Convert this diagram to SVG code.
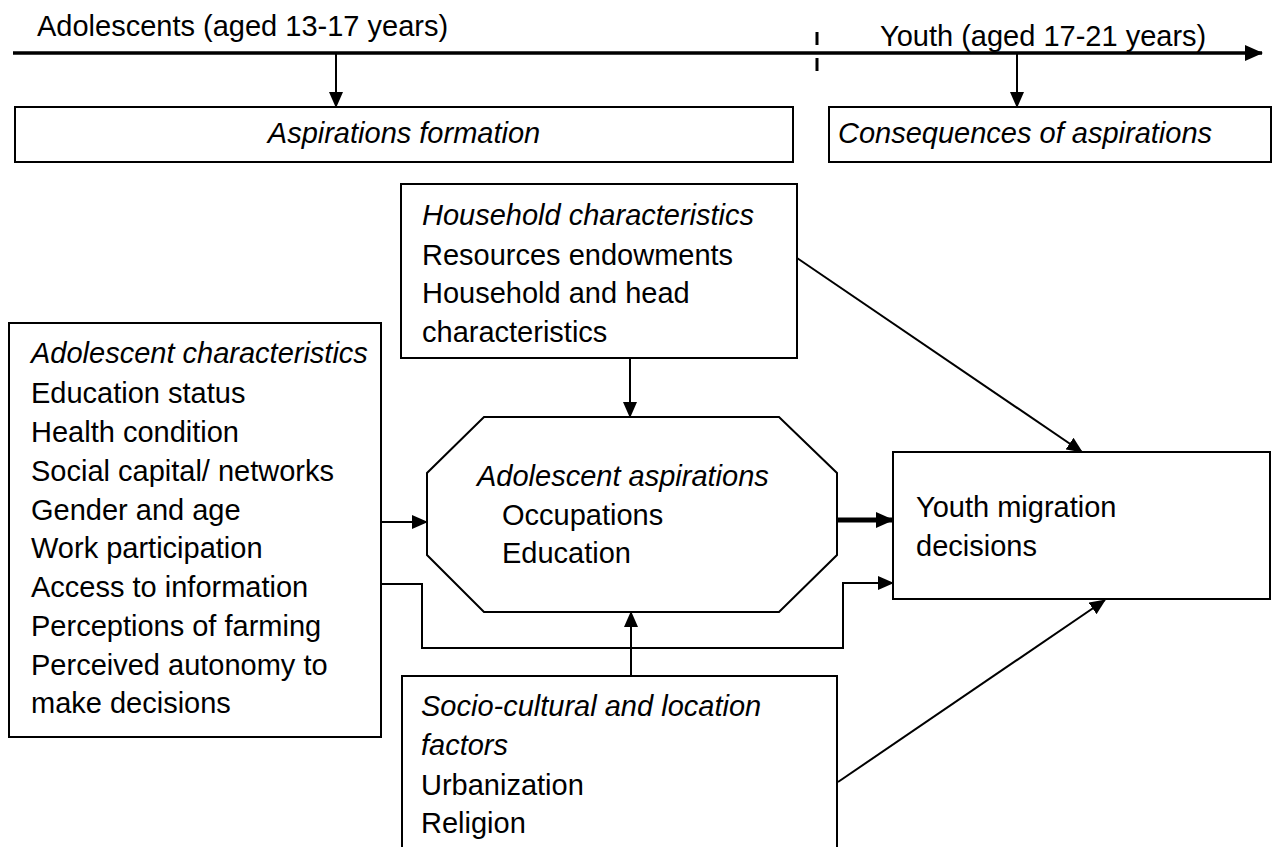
<svg xmlns="http://www.w3.org/2000/svg" width="1275" height="847" viewBox="0 0 1275 847">
<style>
text{font-family:"Liberation Sans",Arial,sans-serif;font-size:29px;fill:#000}
.i{font-style:italic}
.box{fill:#fff;stroke:#000;stroke-width:2}
.ln{fill:none;stroke:#000;stroke-width:2}
</style>
<defs>
<marker id="ah" markerUnits="userSpaceOnUse" markerWidth="16" markerHeight="14" refX="15" refY="7" orient="auto"><path d="M0,0 L16,7 L0,14 Z" fill="#000"/></marker>
<marker id="ahb" markerUnits="userSpaceOnUse" markerWidth="18" markerHeight="16" refX="17" refY="8" orient="auto"><path d="M0,0 L18,8 L0,16 Z" fill="#000"/></marker>
</defs>
<rect width="1275" height="847" fill="#fff"/>
<g id="timeline">
<text x="37" y="36">Adolescents (aged 13-17 years)</text>
<text x="880" y="46">Youth (aged 17-21 years)</text>
<line x1="13" y1="53" x2="1262" y2="53" stroke="#000" stroke-width="3.5" marker-end="url(#ahb)"/>
<line x1="817" y1="32" x2="817" y2="74" stroke="#000" stroke-width="3" stroke-dasharray="13,13"/>
</g>
<g id="aspirations-formation">
<rect class="box" x="15" y="107" width="778" height="55"/>
<text class="i" x="404" y="143" text-anchor="middle">Aspirations formation</text>
</g>
<g id="consequences">
<rect class="box" x="829" y="107" width="442" height="55"/>
<text class="i" x="838" y="143">Consequences of aspirations</text>
</g>
<g id="household">
<rect class="box" x="401" y="184" width="396" height="174"/>
<text x="422"><tspan class="i" x="422" y="225">Household characteristics</tspan><tspan x="422" y="265">Resources endowments</tspan><tspan x="422" y="303">Household and head</tspan><tspan x="422" y="342">characteristics</tspan></text>
</g>
<g id="adolescent">
<rect class="box" x="9" y="323" width="372" height="414"/>
<text><tspan class="i" x="31" y="363">Adolescent characteristics</tspan><tspan x="31" y="403">Education status</tspan><tspan x="31" y="442">Health condition</tspan><tspan x="31" y="481">Social capital/ networks</tspan><tspan x="31" y="520">Gender and age</tspan><tspan x="31" y="558">Work participation</tspan><tspan x="31" y="597">Access to information</tspan><tspan x="31" y="636">Perceptions of farming</tspan><tspan x="31" y="675">Perceived autonomy to</tspan><tspan x="31" y="713">make decisions</tspan></text>
</g>
<g id="aspirations">
<polygon class="box" points="484,417 779,417 837,473 837,555 779,612 484,612 427,555 427,473"/>
<text><tspan class="i" x="477" y="486">Adolescent aspirations</tspan><tspan x="502" y="525">Occupations</tspan><tspan x="502" y="563">Education</tspan></text>
</g>
<g id="youth">
<rect class="box" x="893" y="452" width="377" height="147"/>
<text><tspan x="916" y="517">Youth migration</tspan><tspan x="916" y="556">decisions</tspan></text>
</g>
<g id="socio">
<rect class="box" x="402" y="676" width="435" height="190"/>
<text><tspan class="i" x="421" y="716">Socio-cultural and location</tspan><tspan class="i" x="421" y="755">factors</tspan><tspan x="421" y="795">Urbanization</tspan><tspan x="421" y="833">Religion</tspan></text>
</g>
<g id="connectors">
<line class="ln" x1="336" y1="54" x2="336" y2="107" marker-end="url(#ah)"/>
<line class="ln" x1="1017" y1="54" x2="1017" y2="107" marker-end="url(#ah)"/>
<line class="ln" x1="630" y1="358" x2="630" y2="417" marker-end="url(#ah)"/>
<line class="ln" x1="797" y1="258" x2="1082" y2="452" marker-end="url(#ah)"/>
<line class="ln" x1="381" y1="522" x2="427" y2="522" marker-end="url(#ah)"/>
<polyline class="ln" points="381,584 422,584 422,648 843,648 843,583 893,583" marker-end="url(#ah)"/>
<line x1="837" y1="520" x2="893" y2="520" stroke="#000" stroke-width="5" marker-end="url(#ahb)"/>
<line class="ln" x1="631" y1="676" x2="631" y2="612" marker-end="url(#ah)"/>
<line class="ln" x1="838" y1="782" x2="1105" y2="600" marker-end="url(#ah)"/>
</g>
</svg>
